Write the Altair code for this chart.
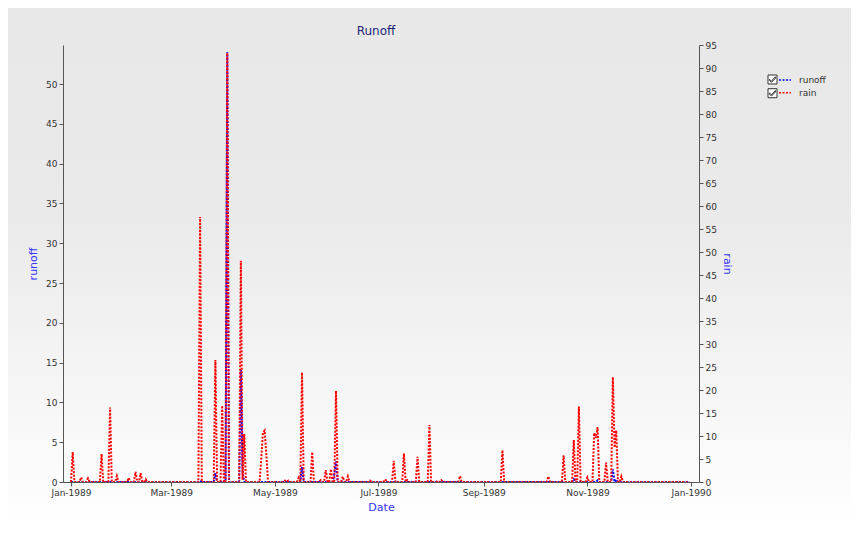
import altair as alt
import pandas as pd

# ---- data (day index 0 = 1989-01-01) ----
dates = pd.date_range("1989-01-01", "1989-12-31", freq="D").strftime("%Y-%m-%dT00:00:00").tolist()

rain_day = [1, 6, 10, 18, 23, 27, 34, 38, 41, 44, 76, 85, 89, 92, 100, 101, 102,
            112, 113, 114, 115, 126, 128, 134, 136, 142, 147, 150, 153, 156, 160, 163,
            176, 185, 190, 196, 198, 204, 211, 216, 218, 229, 254, 281, 290, 296, 299,
            304, 308, 309, 310, 315, 319, 320, 321, 324]
rain_val = [6.5, 1.0, 0.8, 6.1, 16.2, 1.3, 0.9, 2.2, 1.9, 0.6, 57.6, 26.5, 16.6, 93.3, 48.1, 0.5, 10.4,
            5.0, 10.8, 11.2, 6.0, 0.3, 0.3, 0.9, 23.8, 6.5, 0.4, 2.6, 2.8, 19.8, 1.2, 1.2,
            0.3, 0.6, 4.6, 6.2, 0.4, 5.5, 12.4, 0.3, 0.4, 1.3, 6.9, 1.2, 5.8, 9.1, 16.4,
            1.0, 10.7, 9.6, 11.9, 4.2, 22.8, 7.5, 11.2, 1.2]

runoff_day = [76, 85, 92, 100, 101, 136, 155, 156, 296, 310, 319, 321]
runoff_val = [0.15, 1.1, 54.0, 14.1, 1.2, 1.9, 1.0, 2.6, 0.35, 0.2, 1.6, 0.3]

series_names = ["runoff", "rain"]
series_colors = ["#0000ff", "#ff0000"]
runoff_ticks = [0, 5, 10, 15, 20, 25, 30, 35, 40, 45, 50]
rain_ticks = [0, 5, 10, 15, 20, 25, 30, 35, 40, 45, 50, 55, 60, 65, 70, 75, 80, 85, 90, 95]

n = len(dates)
rain = [0.0] * n
for d, v in zip(rain_day, rain_val):
    rain[d] = v
runoff = [0.0] * n
for d, v in zip(runoff_day, runoff_val):
    runoff[d] = v

df = pd.DataFrame({
    "date": dates * 2,
    "value": runoff + rain,
    "series": ["runoff"] * n + ["rain"] * n,
})

FONT = "DejaVu Sans"
AXIS_COL = "#555555"
LABEL_COL = "#333333"
TITLE_COL = "#3535ff"

axis_style = dict(
    labelFont=FONT, titleFont=FONT, labelColor=LABEL_COL, titleColor=TITLE_COL,
    titleFontSize=11, titleFontWeight="normal", domainColor=AXIS_COL, tickColor=AXIS_COL,
    grid=False, zindex=1, tickSize=4, labelPadding=2, labelFontSize=9,
)

x_ticks = [alt.DateTime(year=1989, month=m, date=1) for m in [1, 3, 5, 7, 9, 11]] + \
          [alt.DateTime(year=1990, month=1, date=1)]

x_enc = alt.X(
    "date:T",
    scale=alt.Scale(domain=[alt.DateTime(year=1988, month=12, date=27, hours=7),
                            alt.DateTime(year=1990, month=1, date=5, hours=17)]),
    axis=alt.Axis(values=x_ticks, format="%b-%Y", title="Date", titlePadding=4,
                  labelFlush=False, labelOverlap=False, **axis_style),
)

legend_common = dict(
    orient="none", title=None, symbolSize=144, rowPadding=0.7, labelFontSize=9,
    labelFont=FONT, labelColor=LABEL_COL, padding=0,
)

color_enc = alt.Color(
    "series:N",
    scale=alt.Scale(domain=series_names, range=series_colors),
    legend=alt.Legend(symbolType="stroke", symbolDash=[2, 1.5], symbolStrokeWidth=1.5,
                      legendX=715, legendY=28, labelOffset=7, **legend_common),
)

bg = alt.Chart(pd.DataFrame({"k": [0]})).mark_rect(
    fill=alt.Gradient(
        gradient="linear", x1=0, x2=0, y1=0, y2=1,
        stops=[alt.GradientStop(color="#e8e8e8", offset=0),
               alt.GradientStop(color="#eaeaea", offset=0.4),
               alt.GradientStop(color="#ffffff", offset=1)],
    ),
).encode(x=alt.value(-55), x2=alt.value(788), y=alt.value(-37), y2=alt.value(484))

runoff_line = alt.Chart(df).transform_filter(alt.datum.series == "runoff").mark_line(
    strokeWidth=2, strokeDash=[2, 1.5]
).encode(
    x=x_enc,
    y=alt.Y("value:Q", scale=alt.Scale(domain=[0, 54.9], nice=False),
            axis=alt.Axis(orient="left", values=runoff_ticks, title="runoff",
                          titlePadding=7, **axis_style)),
    color=color_enc,
)

rain_line = alt.Chart(df).transform_filter(alt.datum.series == "rain").mark_line(
    strokeWidth=2, strokeDash=[2, 1.5]
).encode(
    x=x_enc,
    y=alt.Y("value:Q", scale=alt.Scale(domain=[0, 95], nice=False),
            axis=alt.Axis(orient="right", values=rain_ticks, title="rain",
                          titlePadding=5, **axis_style)),
    color=color_enc,
)

cb_path = ("M-0.75,-0.75L0.75,-0.75L0.75,0.75L-0.75,0.75Z "
           "M-0.5,-0.05L-0.18,0.28L0.48,-0.45L0.48,-0.2L-0.18,0.48L-0.5,0.15Z")

checkboxes = alt.Chart(df).transform_filter("false").mark_point(
    filled=False, fill="white", stroke="#333333", strokeWidth=1, opacity=1
).encode(
    shape=alt.Shape("box:N", scale=alt.Scale(domain=["cb1", "cb2"], range=[cb_path, cb_path]),
                    legend=alt.Legend(labelExpr="''", legendX=703, legendY=28,
                                      symbolStrokeWidth=1, symbolOpacity=1, **legend_common)),
)

chart = alt.layer(bg, runoff_line, rain_line, checkboxes).resolve_scale(
    y="independent"
).properties(
    width=636, height=437,
    title=alt.Title("Runoff", fontSize=12, color="#1f1f77", font=FONT, fontWeight="normal",
                    offset=0, dy=30, dx=-5),
    autosize=alt.AutoSizeParams(type="none"),
    padding={"left": 55, "top": 37, "right": 152, "bottom": 47},
).configure_view(stroke=None).configure(background="#ffffff")

chart.save("out.html", embed_options={"renderer": "svg", "actions": False})
